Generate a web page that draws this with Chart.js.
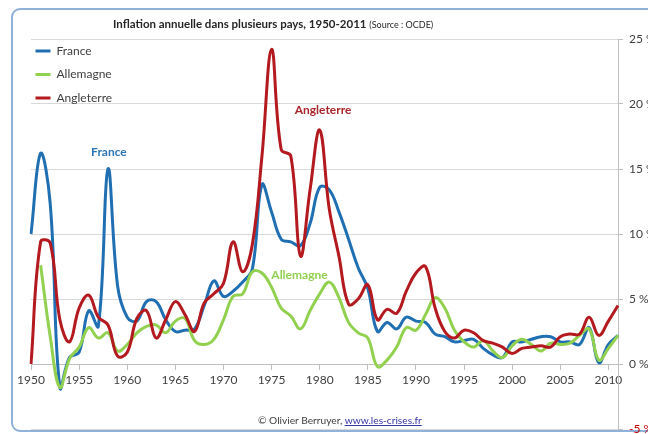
<!DOCTYPE html>
<html>
<head>
<meta charset="utf-8">
<title>Inflation annuelle</title>
<script src="https://cdn.jsdelivr.net/npm/chart.js@4.4.0/dist/chart.umd.min.js"></script>
<style>
  body { margin: 0; background: #fff; overflow: hidden; }
  #wrap { position: relative; width: 648px; height: 434px; overflow: hidden; font-family: Lato, sans-serif; }
  #frame { position: absolute; left: 11px; top: 8px; width: 700px; height: 420px; border: 2px solid #8fb1da; border-radius: 9px; }
  #title { position: absolute; left: 113px; top: 17px; font-size: 11.5px; font-weight: bold; color: #262626; white-space: nowrap; }
  #title span { font-size: 9px; font-weight: normal; }
  #credit { position: absolute; left: 258px; top: 414px; font-size: 10.2px; color: #404040; white-space: nowrap; }
  #credit a { color: #3535a5; }
  canvas { position: absolute; left: 0; top: 0; }
</style>
</head>
<body>
<div id="wrap">
  <div id="frame"></div>
  <canvas id="myChart" width="648" height="434"></canvas>
  <div id="title">Inflation annuelle dans plusieurs pays, 1950-2011 <span>(Source : OCDE)</span></div>
  <div id="credit">© Olivier Berruyer, <a href="#">www.les-crises.fr</a></div>
</div>
<script>
// annees (axe x)
const years = ['1950','1951','1952','1953','1954','1955','1956','1957','1958','1959',
  '1960','1961','1962','1963','1964','1965','1966','1967','1968','1969',
  '1970','1971','1972','1973','1974','1975','1976','1977','1978','1979',
  '1980','1981','1982','1983','1984','1985','1986','1987','1988','1989',
  '1990','1991','1992','1993','1994','1995','1996','1997','1998','1999',
  '2000','2001','2002','2003','2004','2005','2006','2007','2008','2009',
  '2010','2011'];

// inflation en %
const france = [10.0, 16.2, 12.3, -1.8, 0.5, 0.9, 4.1, 2.9, 15.0, 6.0,
  3.6, 3.3, 4.8, 4.8, 3.4, 2.5, 2.6, 2.7, 4.5, 6.4,
  5.2, 5.6, 6.3, 7.3, 13.8, 11.7, 9.6, 9.4, 9.1, 10.8,
  13.6, 13.4, 11.7, 9.6, 7.4, 5.8, 2.5, 3.2, 2.7, 3.6,
  3.3, 3.2, 2.3, 2.1, 1.7, 1.8, 1.9, 1.2, 0.7, 0.5,
  1.7, 1.7, 1.9, 2.1, 2.1, 1.7, 1.7, 1.5, 2.8, 0.1,
  1.5, 2.2];

const allemagne = [null, 7.6, 2.1, -1.8, 0.4, 1.3, 2.8, 2.0, 2.4, 1.0,
  1.5, 2.4, 2.9, 3.0, 2.4, 3.3, 3.5, 1.8, 1.5, 1.9,
  3.4, 5.2, 5.4, 7.1, 7.0, 5.9, 4.3, 3.7, 2.7, 4.1,
  5.4, 6.3, 5.1, 3.2, 2.4, 2.0, -0.2, 0.3, 1.3, 2.8,
  2.6, 3.8, 5.1, 4.3, 2.6, 1.7, 1.3, 1.8, 1.0, 0.5,
  1.4, 1.9, 1.5, 1.0, 1.6, 1.5, 1.6, 2.2, 2.7, 0.3,
  1.2, 2.2];

const angleterre = [0.0, 9.4, 9.3, 3.4, 1.7, 4.3, 5.3, 3.6, 3.0, 0.6,
  0.9, 3.5, 4.1, 2.0, 3.4, 4.8, 3.8, 2.5, 4.7, 5.4,
  6.2, 9.4, 7.1, 9.2, 16.0, 24.2, 16.5, 16.0, 8.3, 13.4,
  18.0, 11.9, 8.3, 4.6, 5.0, 6.1, 3.4, 4.2, 3.9, 5.6,
  7.0, 7.5, 4.3, 2.5, 2.0, 2.6, 2.4, 1.8, 1.6, 1.3,
  0.8, 1.2, 1.3, 1.4, 1.3, 2.1, 2.3, 2.3, 3.6, 2.2,
  3.3, 4.5];

const names = ['France', 'Allemagne', 'Angleterre'];
const colors = ['#1f6fb2', '#92d050', '#b3191e'];

// etiquettes posees dans le graphique (annee, valeur)
const notes = [
  { text: 'France', year: 1958.1, value: 16.3, color: '#2e75b6' },
  { text: 'Angleterre', year: 1980.35, value: 19.5, color: '#a8262b' },
  { text: 'Allemagne', year: 1977.9, value: 6.85, color: '#92d050' }
];

Chart.defaults.font.family = 'Lato';
Chart.defaults.color = '#404040';

const notesPlugin = {
  id: 'notes',
  afterLayout(chart) {
    // la legende reste en haut a gauche de la zone de trace
    chart.legend.left = chart.chartArea.left - 7;
    chart.legend.top = chart.chartArea.top - 5.5;
  },
  afterDatasetsDraw(chart) {
    const { ctx, scales: { x, y } } = chart;
    ctx.save();
    ctx.font = 'bold 12px Lato';
    ctx.textAlign = 'center';
    ctx.textBaseline = 'middle';
    notes.forEach(n => {
      ctx.fillStyle = n.color;
      ctx.fillText(n.text, x.getPixelForValue(n.year - 1950), y.getPixelForValue(n.value));
    });
    ctx.restore();
  }
};

const ctx = document.getElementById('myChart').getContext('2d');
const series = [france, allemagne, angleterre];

const myChart = new Chart(ctx, {
  type: 'line',
  data: {
    labels: years,
    datasets: series.map((d, i) => ({
      label: names[i],
      data: d,
      order: 3 - i,
      borderColor: colors[i],
      backgroundColor: colors[i],
      borderWidth: 3,
      pointRadius: 0,
      tension: 0.4,
      fill: false
    }))
  },
  options: {
    responsive: false,
    animation: false,
    devicePixelRatio: 1,
    layout: { padding: { left: 31, top: 39, right: 0, bottom: 5 } },
    scales: {
      x: {
        position: { y: 0 },
        afterFit: s => { s.height = 0; s.paddingLeft = 0; s.paddingRight = 0; },
        grid: {
          drawOnChartArea: false,
          tickLength: 5,
          color: c => (c.index % 5 === 0 ? '#bfbfbf' : 'rgba(0,0,0,0)')
        },
        border: { color: '#bfbfbf' },
        ticks: {
          autoSkip: false,
          maxRotation: 0,
          padding: 4,
          font: { size: 12 },
          callback: (v, i) => (i % 5 === 0 ? years[i] : '')
        }
      },
      y: {
        position: 'right',
        min: -5,
        max: 25,
        afterFit: s => { s.width = 30; s.paddingTop = 0; s.paddingBottom = 0; },
        grid: { color: '#d9d9d9', tickLength: 5, tickColor: '#bfbfbf' },
        border: { display: true, color: '#bfbfbf' },
        ticks: {
          stepSize: 5,
          padding: 6,
          font: { size: 12 },
          color: c => (c.tick && c.tick.value < 0 ? '#c00000' : '#404040'),
          callback: v => v + ' %'
        }
      }
    },
    plugins: {
      legend: {
        position: 'chartArea',
        align: 'start',
        labels: {
          usePointStyle: true,
          pointStyle: 'line',
          pointStyleWidth: 15,
          padding: 11.5,
          color: '#404040',
          font: { size: 12 },
          sort: (a, b) => a.datasetIndex - b.datasetIndex
        }
      },
      tooltip: { enabled: false }
    }
  },
  plugins: [notesPlugin]
});
</script>
</body>
</html>
